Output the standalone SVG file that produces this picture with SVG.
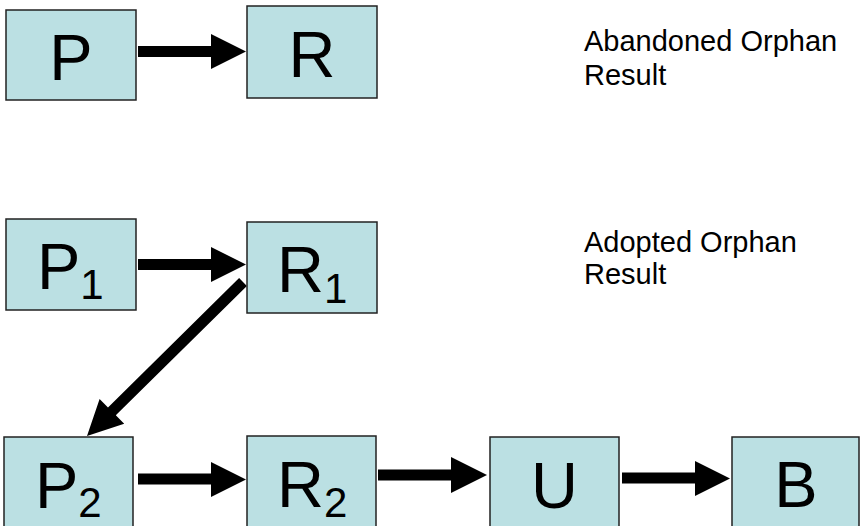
<svg xmlns="http://www.w3.org/2000/svg" width="861" height="526" viewBox="0 0 861 526">
<style>
.box{fill:#BBE0E3;stroke:#222;stroke-width:1.5}
.lbl{font-family:"Liberation Sans",Arial,sans-serif;font-size:65px;fill:#000}
.sub{font-size:42px}
.note{font-family:"Liberation Sans",Arial,sans-serif;font-size:29px;fill:#000}
.arr{fill:#000}
</style>
<rect width="861" height="526" fill="#fff"/>
<g id="connectors">
<polygon class="arr" points="138,46 211,46 211,34 246,51.5 211,69 211,57 138,57"/>
<polygon class="arr" points="138,259 211,259 211,247 246,264.5 211,282 211,270 138,270"/>
<polygon class="arr" points="239.1,278.1 246.9,285.9 115.8,415.3 124.2,423.8 87,436 99.6,399 108,407.5"/>
<polygon class="arr" points="138,473.5 211,473.5 211,462 246,479.5 211,497 211,484.5 138,484.5"/>
<polygon class="arr" points="378,469.5 451,469.5 451,457 487,475 451,493 451,480.5 378,480.5"/>
<polygon class="arr" points="622,472.5 695,472.5 695,461 730,478.5 695,496 695,483.5 622,483.5"/>
</g>
<g id="node-P"><rect class="box" x="6" y="10" width="130" height="90"/><text class="lbl" x="71" y="80" text-anchor="middle">P</text></g>
<g id="node-R"><rect class="box" x="247" y="6" width="130" height="92"/><text class="lbl" x="312" y="77" text-anchor="middle">R</text></g>
<g id="node-P1"><rect class="box" x="6" y="219" width="130" height="91"/><text class="lbl" x="37" y="289">P<tspan class="sub" dy="10">1</tspan></text></g>
<g id="node-R1"><rect class="box" x="247" y="222" width="130" height="91"/><text class="lbl" x="277" y="292">R<tspan class="sub" dy="11">1</tspan></text></g>
<g id="node-P2"><rect class="box" x="4" y="437" width="129" height="92"/><text class="lbl" x="35" y="508">P<tspan class="sub" dy="9">2</tspan></text></g>
<g id="node-R2"><rect class="box" x="247" y="436" width="129" height="93"/><text class="lbl" x="277" y="507">R<tspan class="sub" dy="10">2</tspan></text></g>
<g id="node-U"><rect class="box" x="490" y="437" width="129" height="92"/><text class="lbl" x="554.5" y="508" text-anchor="middle">U</text></g>
<g id="node-B"><rect class="box" x="732" y="437" width="127" height="92"/><text class="lbl" x="796" y="507" text-anchor="middle">B</text></g>
<g id="note-abandoned"><text class="note" x="584" y="51">Abandoned Orphan</text><text class="note" x="584" y="85">Result</text></g>
<g id="note-adopted"><text class="note" x="584" y="252">Adopted Orphan</text><text class="note" x="584" y="284">Result</text></g>
</svg>
